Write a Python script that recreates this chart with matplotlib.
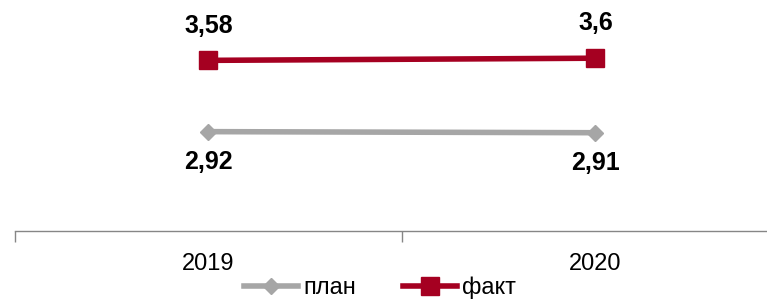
import matplotlib.pyplot as plt
import numpy as np

years = ['2019', '2020']
plan = [2.92, 2.91]
fact = [3.58, 3.60]
plan_labels = ['2,92', '2,91']
fact_labels = ['3,58', '3,6']

gray = '#A6A6A6'
red = '#A50021'
font = ['Liberation Sans', 'DejaVu Sans']

fig = plt.figure(figsize=(7.67, 3.01), dpi=100)
# axes extends beyond the right edge like in the reference
ax = fig.add_axes([15 / 767, 70 / 301, 774 / 767, 216 / 301])

x = np.arange(len(years))
ax.plot(x, plan, color=gray, lw=4, marker='D', markersize=8, label='план', clip_on=False)
ax.plot(x, fact, color=red, lw=4, marker='s', markersize=13, label='факт', clip_on=False)

for xi, v, t in zip(x, fact, fact_labels):
    ax.annotate(t, (xi, v), xytext=(0, 25), textcoords='offset points', ha='center', va='center',
                fontsize=18, fontweight='bold', family=font)
for xi, v, t in zip(x, plan, plan_labels):
    ax.annotate(t, (xi, v), xytext=(0, -22), textcoords='offset points', ha='center', va='center',
                fontsize=18, fontweight='bold', family=font)

ax.set_xlim(-0.5, 1.5)
ax.set_ylim(2, 4)
ax.set_yticks([])
ax.set_xticks([-0.5, 0.5, 1.5])
ax.set_xticklabels([])
ax.set_xticks(x, minor=True)
ax.set_xticklabels(years, minor=True, fontsize=17, family=font)
ax.tick_params(axis='x', which='major', length=8, direction='out', color='#868686', width=1)
ax.tick_params(axis='x', which='minor', length=0, pad=16)
for s in ['top', 'left', 'right']:
    ax.spines[s].set_visible(False)
ax.spines['bottom'].set_color('#868686')
ax.spines['bottom'].set_linewidth(1)

ax.legend(loc='center', bbox_to_anchor=(380 / 767, 1 - 288 / 301), bbox_transform=fig.transFigure,
          ncol=2, frameon=False, prop={'family': font, 'size': 17}, handlelength=2.3,
          handletextpad=0.2, columnspacing=2.0, borderaxespad=0)

fig.savefig('out.png', dpi=100)
